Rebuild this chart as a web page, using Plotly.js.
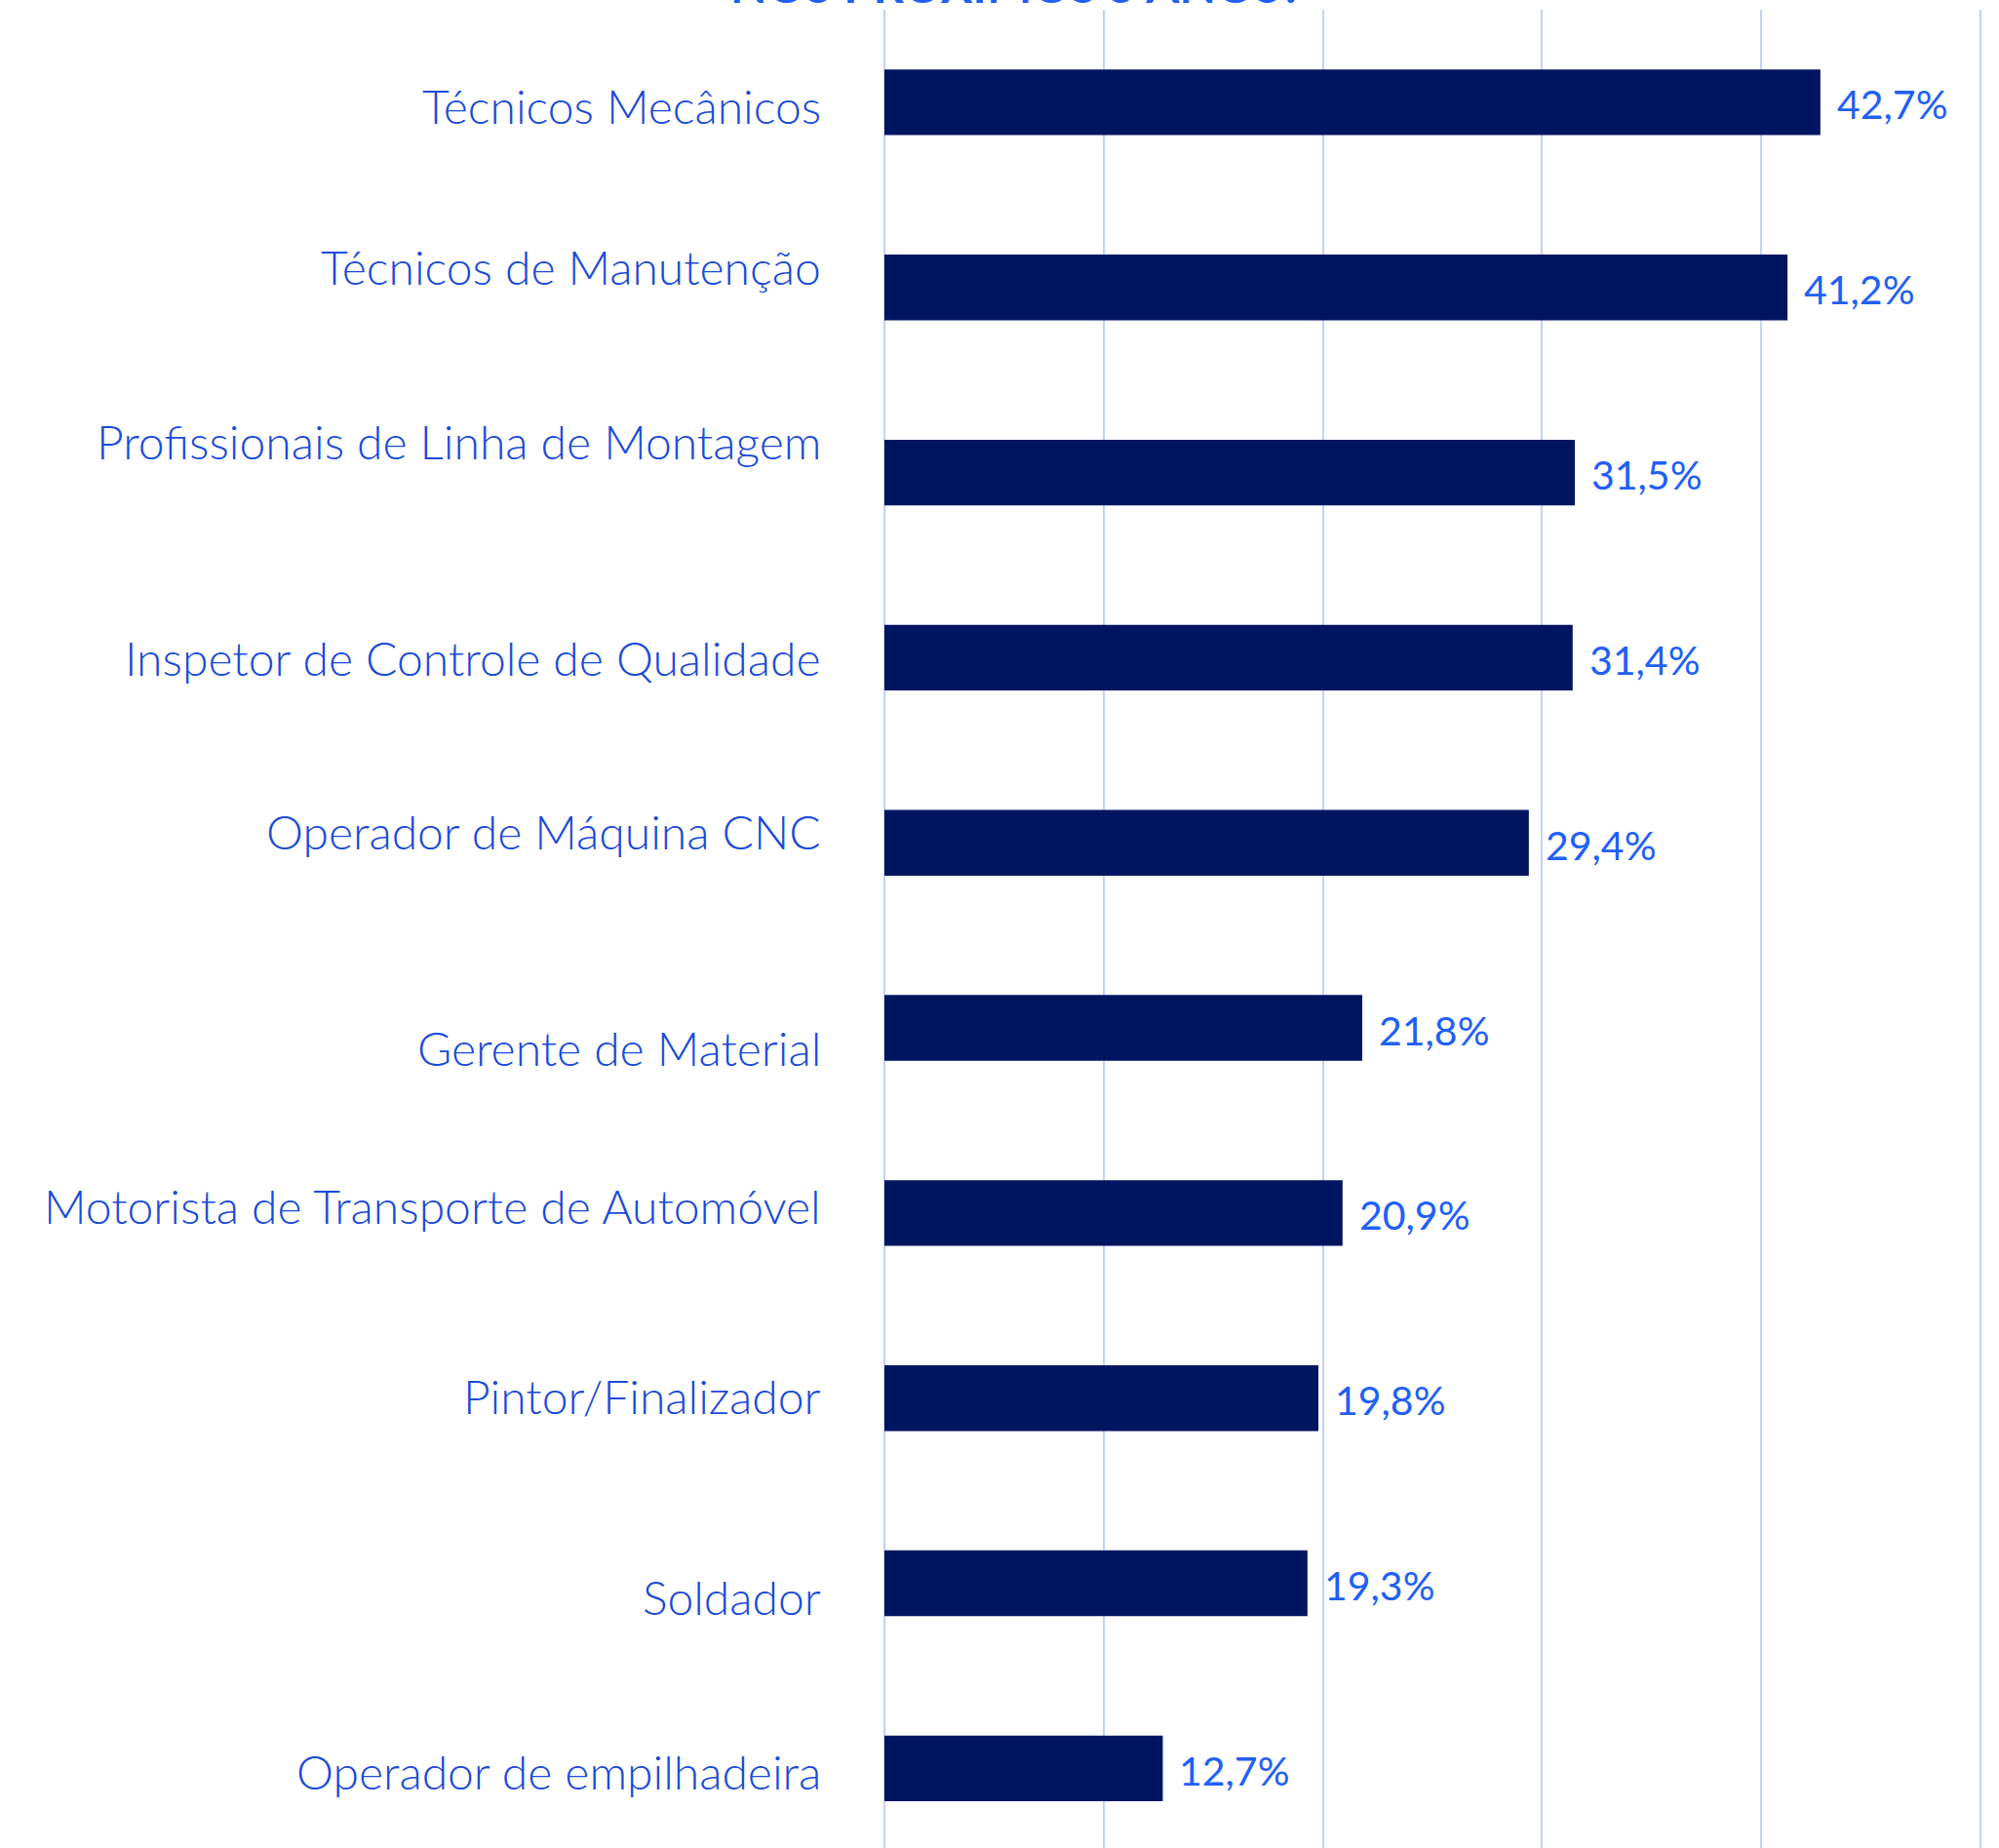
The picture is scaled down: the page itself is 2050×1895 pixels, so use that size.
<!DOCTYPE html>
<html>
<head>
<meta charset="utf-8">
<script src="https://cdn.plot.ly/plotly-3.0.1.min.js"></script>
<style>
  html, body { margin: 0; padding: 0; background: #ffffff; }
  #chart { width: 2050px; height: 1895px; }
</style>
</head>
<body>
<div id="chart"></div>
<script>
// ---- data ----
const categories = [
  "Técnicos Mecânicos",
  "Técnicos de Manutenção",
  "Profissionais de Linha de Montagem",
  "Inspetor de Controle de Qualidade",
  "Operador de Máquina CNC",
  "Gerente de Material",
  "Motorista de Transporte de Automóvel",
  "Pintor/Finalizador",
  "Soldador",
  "Operador de empilhadeira"
];
const values = [42.7, 41.2, 31.5, 31.4, 29.4, 21.8, 20.9, 19.8, 19.3, 12.7];
const titleText = "NOS PRÓXIMOS 5 ANOS?";

// ---- styles (layout only) ----
const labelShift = [-3.5, 21, 31.6, 0, 11.8, -20, 7, 2, -13.5, -3]; // px, + is up
const navy = "#001560";
const labelBlue = "#1a4bd8";
const valueBlue = "#2160f5";
const gridBlue = "#c3d1fb";

const fmt = v => v.toFixed(1).replace(".", ",") + "%";

const trace = {
  type: "bar",
  orientation: "h",
  x: values,
  y: categories,
  marker: { color: navy, line: { width: 0 } },
  hoverinfo: "none",
  showlegend: false
};

const annotations = [];
categories.forEach((c, i) => {
  annotations.push({
    xref: "paper", yref: "y", x: 0, y: c,
    xanchor: "right", yanchor: "middle",
    xshift: -63, yshift: labelShift[i],
    text: c, showarrow: false,
    font: { family: "Lato, 'Lato Light', sans-serif", weight: 300, size: 48, color: labelBlue }
  });
  annotations.push({
    xref: "x", yref: "y", x: values[i], y: c,
    xanchor: "left", yanchor: "middle",
    xshift: 15, yshift: -2,
    text: fmt(values[i]), showarrow: false,
    font: { family: "Lato, sans-serif", weight: 400, size: 41, color: valueBlue }
  });
});
annotations.push({
  xref: "paper", yref: "paper", x: 0.1187, y: 1,
  xanchor: "center", yanchor: "bottom", yshift: -5,
  text: titleText, showarrow: false,
  font: { family: "Lato, sans-serif", weight: 700, size: 49, color: valueBlue }
});

const layout = {
  width: 2050,
  height: 1895,
  margin: { l: 907, r: 0, t: 10, b: 0, pad: 0 },
  paper_bgcolor: "#ffffff",
  plot_bgcolor: "#ffffff",
  bargap: 0.645,
  xaxis: {
    range: [0, 50.85],
    dtick: 10,
    tick0: 0,
    showgrid: true,
    gridcolor: gridBlue,
    gridwidth: 2,
    zeroline: true,
    zerolinecolor: gridBlue,
    zerolinewidth: 2,
    showticklabels: false,
    ticks: "",
    showline: false,
    fixedrange: true
  },
  yaxis: {
    type: "category",
    range: [9.43, -0.5],
    showticklabels: false,
    showgrid: false,
    zeroline: false,
    ticks: "",
    showline: false,
    fixedrange: true
  },
  annotations: annotations
};

Plotly.newPlot("chart", [trace], layout, { displayModeBar: false, staticPlot: true });
</script>
</body>
</html>
